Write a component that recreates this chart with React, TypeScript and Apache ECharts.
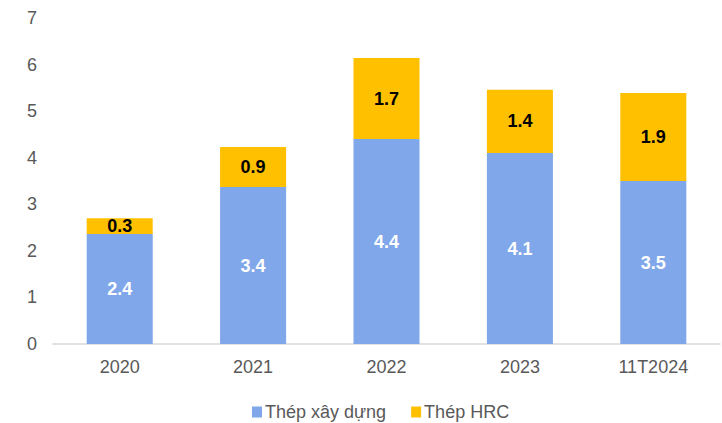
import React, { useEffect, useRef } from "react";
import * as echarts from "echarts";

const categories = ["2020", "2021", "2022", "2023", "11T2024"];
const thepXayDung = [2.36, 3.37, 4.4, 4.1, 3.5];
const thepHRC = [0.34, 0.86, 1.74, 1.36, 1.89];
const yTicks = [0, 1, 2, 3, 4, 5, 6, 7];

export default function App() {
  const ref = useRef<HTMLDivElement>(null);
  useEffect(() => {
    if (!ref.current) return;
    const chart = echarts.init(ref.current, null, { renderer: "svg" });
    const font = "Liberation Sans, Arial, sans-serif";
    chart.setOption({
      animation: false,
      backgroundColor: "#ffffff",
      grid: { left: 53, right: 2, top: 18, bottom: 79 },
      legend: {
        data: ["Thép xây dựng", "Thép HRC"],
        top: 403,
        left: 252,
        padding: 0,
        itemWidth: 10,
        itemHeight: 11,
        itemGap: 25,
        icon: "rect",
        textStyle: { fontFamily: font, fontSize: 18, color: "#595959", padding: [0, 0, 0, -2] },
      },
      xAxis: {
        type: "category",
        data: categories,
        axisLine: { lineStyle: { color: "#d9d9d9", width: 1.5 } },
        axisTick: { show: false },
        axisLabel: { fontFamily: font, fontSize: 18, color: "#595959", margin: 14 },
      },
      yAxis: {
        type: "value",
        min: yTicks[0],
        max: yTicks[yTicks.length - 1],
        interval: 1,
        splitLine: { show: false },
        axisLine: { show: false },
        axisTick: { show: false },
        axisLabel: { fontFamily: font, fontSize: 18, color: "#595959", margin: 16 },
      },
      series: [
        {
          name: "Thép xây dựng",
          type: "bar",
          stack: "total",
          barWidth: "49.5%",
          data: thepXayDung,
          itemStyle: { color: "#7fa7e9" },
          label: {
            show: true,
            position: "inside",
            formatter: (p: any) => Number(p.value).toFixed(1),
            color: "#ffffff",
            fontWeight: "bold",
            fontFamily: font,
            fontSize: 18,
          },
        },
        {
          name: "Thép HRC",
          type: "bar",
          stack: "total",
          data: thepHRC,
          itemStyle: { color: "#ffc000" },
          label: {
            show: true,
            position: "inside",
            formatter: (p: any) => Number(p.value).toFixed(1),
            color: "#000000",
            fontWeight: "bold",
            fontFamily: font,
            fontSize: 18,
          },
        },
      ],
    });
    return () => chart.dispose();
  }, []);
  return (
    <div
      ref={ref}
      style={{ position: "fixed", left: 0, top: 0, width: 722, height: 423, background: "#fff" }}
    />
  );
}
